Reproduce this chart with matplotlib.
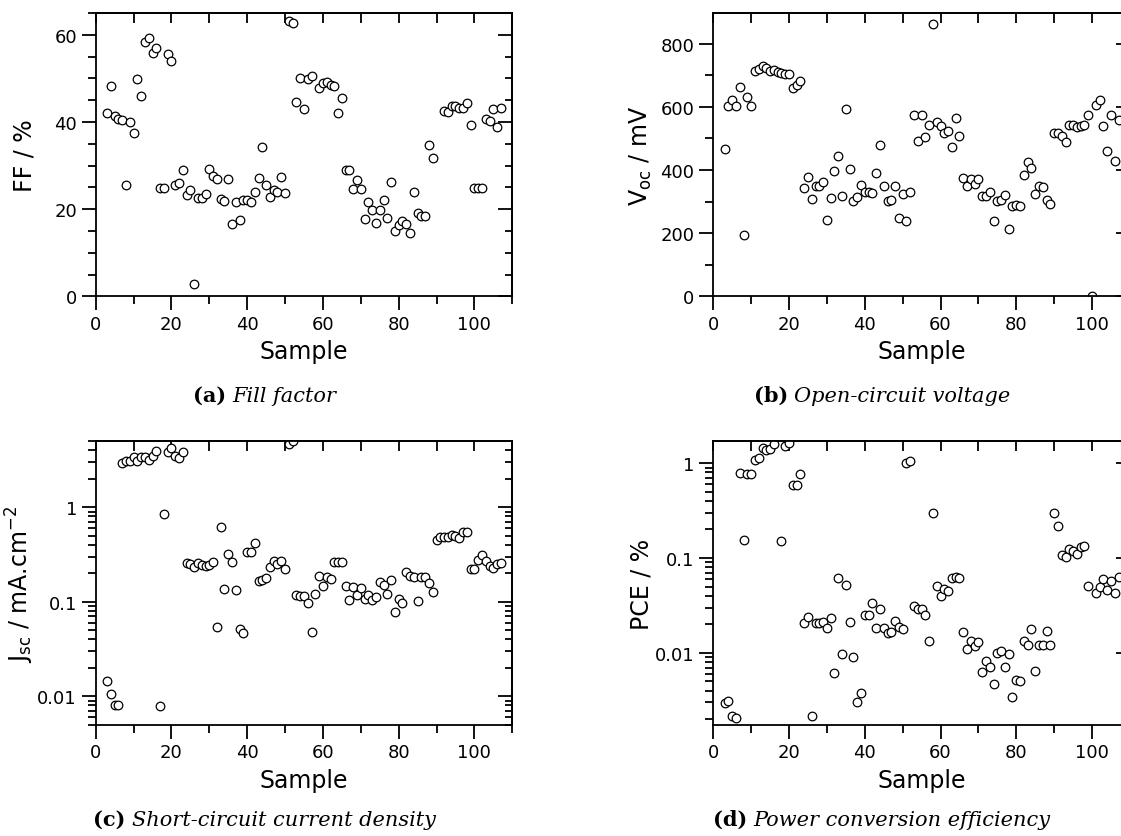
import numpy as np
import matplotlib
matplotlib.use('Agg')
import matplotlib.pyplot as plt
from matplotlib.ticker import MultipleLocator, LogLocator, FuncFormatter, NullFormatter

nan = np.nan

# sample numbers 3..107
sample = np.arange(3, 108)

# fill factor (%)
ff = [42.1, 48.2, 41.4, 40.6, 40.4, 25.5, 39.9, 37.5, 49.9, 46.0,
      58.4, 59.3, 55.8, 56.9, 24.8, 24.8, 55.5, 53.9, 25.5, 26.1,
      28.9, 23.2, 24.5, 2.8, 22.6, 22.6, 23.5, 29.3, 27.7, 27.0,
      22.3, 21.8, 26.9, 16.5, 21.6, 17.6, 22.0, 22.0, 21.6, 23.9,
      27.1, 34.2, 25.5, 22.7, 24.4, 23.9, 27.3, 23.7, 63.2, 62.8,
      44.7, 50.1, 43.0, 49.8, 50.6, nan, 47.8, 48.9, 49.1, 48.6,
      48.2, 42.0, 45.5, 29.1, 29.1, 24.6, 26.8, 24.6, 17.7, 21.7,
      19.9, 16.8, 19.9, 22.2, 17.9, 26.3, 14.9, 16.4, 17.4, 16.6,
      14.5, 23.9, 19.1, 18.5, 18.5, 34.8, 31.7, nan, nan, 42.6,
      42.2, 43.7, 43.7, 43.3, 43.3, 44.3, 39.2, 24.9, 24.9, 24.9,
      40.8, 40.3, 43.0, 38.9, 43.3]

# open-circuit voltage (mV)
voc = [467, 604, 623, 604, 663, 194, 630, 604, 714, 719,
       729, 723, 714, 718, 710, 708, 704, 704, 660, 668,
       681, 342, 377, 307, 348, 351, 361, 243, 313, 396,
       445, 317, 593, 404, 303, 314, 353, 330, 330, 328,
       391, 478, 350, 302, 305, 350, 249, 324, 239, 330,
       575, 491, 573, 505, 543, 862, 551, 539, 517, 525,
       472, 564, 508, 376, 351, 373, 357, 372, 317, 317,
       330, 239, 301, 306, 321, 213, 285, 289, 285, 385,
       425, 406, 323, 351, 347, 306, 292, 518, 518, 507,
       488, 541, 541, 536, 539, 543, 575, 2, 606, 621,
       539, 459, 575, 429, 558]

# short-circuit current density (mA/cm2)
jsc = [0.0145, 0.0105, 0.0081, 0.0081, 2.94, 3.07, 3.07, 3.38, 3.07, 3.38,
       3.38, 3.17, 3.49, 3.91, 0.0078, 0.843, 3.82, 4.21, 3.52, 3.33,
       3.85, 0.255, 0.251, 0.232, 0.255, 0.247, 0.239, 0.247, 0.264, 0.0546,
       0.614, 0.136, 0.321, 0.262, 0.133, 0.052, 0.0468, 0.340, 0.334, 0.423,
       0.168, 0.172, 0.177, 0.232, 0.273, 0.251, 0.268, 0.222, 4.68, 5.07,
       0.118, 0.116, 0.116, 0.098, 0.0475, 0.121, 0.189, 0.146, 0.185, 0.174,
       0.266, 0.266, 0.266, 0.148, 0.105, 0.142, 0.119, 0.139, 0.108, 0.118,
       0.105, 0.113, 0.161, 0.152, 0.120, 0.170, 0.078, 0.106, 0.0964, 0.209,
       0.186, 0.182, 0.101, 0.182, 0.182, 0.158, 0.128, 0.451, 0.482, 0.482,
       0.490, 0.514, 0.501, 0.474, 0.548, 0.548, 0.222, 0.222, 0.277, 0.313,
       0.268, 0.241, 0.228, 0.251, 0.260]

# power conversion efficiency (%)
pce = [0.00294, 0.00313, 0.00218, 0.00204, 0.797, 0.155, 0.765, 0.771, 1.08, 1.13,
       1.43, 1.38, 1.41, 1.60, nan, 0.153, 1.50, 1.63, 0.591, 0.591,
       0.771, 0.0209, 0.0239, 0.00218, 0.0205, 0.0205, 0.0212, 0.0182, 0.0233, 0.0061,
       0.0622, 0.00975, 0.0521, 0.0210, 0.00914, 0.00301, 0.00378, 0.0253, 0.0249, 0.0339,
       0.0183, 0.0291, 0.0185, 0.0162, 0.0166, 0.0216, 0.0189, 0.0177, 1.00, 1.06,
       0.031, 0.0293, 0.0293, 0.0251, 0.0135, 0.297, 0.0508, 0.0395, 0.0469, 0.0454,
       0.0612, 0.0627, 0.0612, 0.0168, 0.0110, 0.0133, 0.0117, 0.0129, 0.00634, 0.00828,
       0.00716, 0.00467, 0.00991, 0.0104, 0.00716, 0.00975, 0.00343, 0.00518, 0.00501, 0.0135,
       0.0120, 0.0179, 0.0064, 0.0120, 0.0120, 0.0172, 0.0120, 0.299, 0.220, 0.107,
       0.102, 0.123, 0.120, 0.111, 0.130, 0.135, 0.0508, nan, 0.0429, 0.0492,
       0.0603, 0.0461, 0.0578, 0.0425, 0.0627]

plt.rcParams['font.family'] = ['DejaVu Sans']
plt.rcParams['mathtext.default'] = 'regular'

W, H = 1121, 837
fig = plt.figure(figsize=(W / 100, H / 100), dpi=100)


def px_axes(left, top, width=416.6, height=283.4):
    return fig.add_axes([left / W, 1 - (top + height) / H, width / W, height / H])


def log_fmt(v, pos):
    return f'{v:g}'


def style(ax, log=False, ymajor=None, yminor=None):
    lw = 1.3
    for s in ax.spines.values():
        s.set_linewidth(lw)
    ax.set_xlim(0, 110)
    ax.xaxis.set_major_locator(MultipleLocator(20))
    ax.xaxis.set_minor_locator(MultipleLocator(10))
    ax.tick_params(which='both', direction='out', width=lw, labelsize=13, pad=3.5)
    ax.tick_params(which='major', length=10)
    ax.tick_params(which='minor', length=5.5)
    top = ax.secondary_xaxis('top')
    top.xaxis.set_major_locator(MultipleLocator(10))
    top.tick_params(direction='in', length=7, width=lw, labeltop=False)
    top.spines['top'].set_linewidth(lw)
    right = ax.secondary_yaxis('right')
    if log:
        ax.yaxis.set_major_formatter(FuncFormatter(log_fmt))
        ax.yaxis.set_minor_locator(LogLocator(subs=np.arange(2, 10)))
        ax.yaxis.set_minor_formatter(NullFormatter())
        right.yaxis.set_minor_locator(LogLocator(subs=np.arange(2, 10)))
    else:
        ax.yaxis.set_major_locator(MultipleLocator(ymajor))
        ax.yaxis.set_minor_locator(MultipleLocator(yminor))
        right.yaxis.set_major_locator(MultipleLocator(ymajor))
        right.yaxis.set_minor_locator(MultipleLocator(yminor))
    right.tick_params(which='both', direction='in', width=lw, labelright=False)
    right.tick_params(which='major', length=10)
    right.tick_params(which='minor', length=5)
    right.yaxis.set_minor_formatter(NullFormatter())
    right.spines['right'].set_linewidth(lw)
    ax.set_xlabel('Sample', fontsize=17)
    ax.xaxis.set_label_coords(0.5, -0.152)
    ax.yaxis.set_label_coords(-0.143, 0.5)


mk = dict(ls='none', marker='o', ms=6.2, mfc='white', mec='black', mew=0.9)

ax_a = px_axes(95.7, 14.0)
ax_a.plot(sample, ff, **mk)
ax_a.set_ylim(0, 65)
style(ax_a, ymajor=20, yminor=5)
ax_a.set_ylabel('FF / %', fontsize=17)

ax_b = px_axes(713.3, 14.0)
ax_b.plot(sample, voc, **mk)
ax_b.set_ylim(0, 897)
style(ax_b, ymajor=200, yminor=100)
ax_b.set_ylabel('V$_{oc}$ / mV', fontsize=17)

ax_c = px_axes(95.7, 442.3)
ax_c.plot(sample, jsc, **mk)
ax_c.set_yscale('log')
ax_c.set_ylim(0.005, 5)
style(ax_c, log=True)
ax_c.set_ylabel('J$_{sc}$ / mA.cm$^{-2}$', fontsize=17)

ax_d = px_axes(713.3, 442.3)
ax_d.plot(sample, pce, **mk)
ax_d.set_yscale('log')
ax_d.set_ylim(0.00175, 1.7)
style(ax_d, log=True)
ax_d.set_ylabel('PCE / %', fontsize=17)

# sub-captions: bold tag + italic title, centred under each panel
captions = [(264.5, 401.7, '(a)', 'Fill factor'),
            (882.0, 401.7, '(b)', 'Open-circuit voltage'),
            (264.5, 826.0, '(c)', 'Short-circuit current density'),
            (882.0, 826.0, '(d)', 'Power conversion efficiency')]
renderer = fig.canvas.get_renderer()
for cx, cy, tag, title in captions:
    t1 = fig.text(0, 1 - cy / H, tag, fontweight='bold', family='DejaVu Serif',
                  fontsize=15, va='baseline')
    t2 = fig.text(0, 1 - cy / H, title, style='italic', family='DejaVu Serif',
                  fontsize=15, va='baseline')
    w1 = t1.get_window_extent(renderer).width
    w2 = t2.get_window_extent(renderer).width
    gap = 6
    x0 = cx - (w1 + gap + w2) / 2
    t1.set_x(x0 / W)
    t2.set_x((x0 + w1 + gap) / W)

fig.savefig('out.png', dpi=100)
